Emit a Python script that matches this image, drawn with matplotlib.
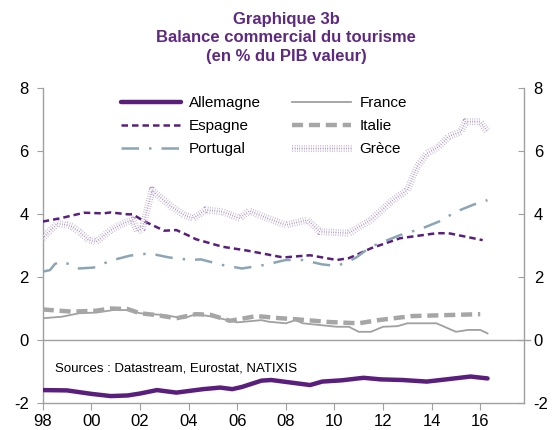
import matplotlib
matplotlib.use("Agg")
import matplotlib.pyplot as plt
import matplotlib.patheffects as pe

plt.rcParams['font.family'] = ['Liberation Sans', 'DejaVu Sans']

# ---- data ----
allemagne_x = [1998.0, 1999.0, 2000.0, 2000.8, 2001.5, 2002.0, 2002.7, 2003.5, 2004.6, 2005.3, 2005.8,
               2006.2, 2007.0, 2007.4, 2008.0, 2009.0, 2009.5, 2010.3, 2011.2, 2011.9, 2012.8, 2013.8,
               2014.6, 2015.6, 2016.3]
allemagne_y = [-1.59, -1.6, -1.71, -1.78, -1.76, -1.7, -1.59, -1.67, -1.56, -1.51, -1.56,
               -1.49, -1.29, -1.27, -1.33, -1.43, -1.32, -1.28, -1.2, -1.25, -1.27, -1.32,
               -1.25, -1.16, -1.22]

france_x = [1998.0, 1998.8, 1999.5, 2000.2, 2000.9, 2001.5, 2002.0, 2003.0, 2003.8, 2004.3, 2005.0,
            2006.0, 2007.0, 2007.3, 2008.0, 2008.4, 2008.7, 2010.1, 2010.6, 2011.0, 2011.5, 2012.0,
            2012.6, 2013.0, 2014.2, 2015.0, 2015.5, 2016.0, 2016.3]
france_y = [0.69, 0.74, 0.85, 0.87, 0.95, 0.95, 0.85, 0.79, 0.69, 0.82, 0.74,
            0.56, 0.63, 0.58, 0.53, 0.63, 0.53, 0.42, 0.42, 0.26, 0.26, 0.42,
            0.44, 0.53, 0.53, 0.26, 0.32, 0.32, 0.21]

espagne_x = [1998.0, 1998.7, 1999.7, 2000.5, 2000.8, 2001.5, 2001.7, 2002.2, 2003.0, 2003.5, 2004.1,
             2004.3, 2005.4, 2006.4, 2007.9, 2009.0, 2010.1, 2010.6, 2010.9, 2011.5, 2012.7, 2014.2,
             2014.7, 2016.1]
espagne_y = [3.76, 3.86, 4.04, 4.02, 4.05, 3.99, 3.99, 3.76, 3.47, 3.49, 3.28,
             3.2, 2.96, 2.84, 2.62, 2.69, 2.54, 2.6, 2.7, 2.91, 3.23, 3.39,
             3.39, 3.17]

italie_x = [1998.0, 1999.2, 2000.2, 2000.8, 2001.5, 2002.0, 2002.7, 2003.5, 2004.3, 2004.9, 2005.7,
            2006.8, 2007.8, 2008.4, 2009.8, 2011.0, 2011.8, 2013.2, 2014.6, 2016.0]
italie_y = [0.97, 0.9, 0.93, 1.0, 0.98, 0.85, 0.79, 0.69, 0.82, 0.8, 0.61,
            0.76, 0.69, 0.66, 0.57, 0.53, 0.63, 0.76, 0.79, 0.82]

portugal_x = [1998.0, 1998.3, 1998.5, 1998.7, 1999.1, 1999.5, 2000.1, 2000.8, 2001.6, 2002.4, 2003.2,
              2004.1, 2004.5, 2005.4, 2006.2, 2007.1, 2008.0, 2008.7, 2009.5, 2010.1, 2010.6, 2010.9,
              2011.5, 2012.7, 2013.6, 2014.3, 2015.0, 2015.7, 2016.3]
portugal_y = [2.17, 2.22, 2.41, 2.49, 2.41, 2.27, 2.3, 2.52, 2.68, 2.75, 2.62,
              2.54, 2.56, 2.38, 2.27, 2.38, 2.54, 2.54, 2.4, 2.35, 2.5, 2.62,
              2.96, 3.33, 3.54, 3.76, 4.07, 4.29, 4.44]

grece_x = [1998.0, 1998.2, 1998.6, 1999.0, 1999.2, 1999.5, 1999.9, 2000.2, 2000.8, 2001.3, 2001.7,
           2001.9, 2002.1, 2002.5, 2002.8, 2003.2, 2003.8, 2004.2, 2004.7, 2005.4, 2006.1, 2006.5,
           2007.1, 2008.0, 2008.9, 2009.4, 2010.1, 2010.6, 2010.9, 2011.5, 2012.4, 2013.0, 2013.4,
           2013.8, 2014.3, 2014.7, 2015.2, 2015.4, 2016.0, 2016.3]
grece_y = [3.23, 3.39, 3.7, 3.65, 3.6, 3.44, 3.17, 3.12, 3.49, 3.7, 3.81,
           3.44, 3.54, 4.76, 4.55, 4.29, 3.97, 3.86, 4.13, 4.07, 3.86, 4.1,
           3.91, 3.65, 3.81, 3.44, 3.41, 3.39, 3.54, 3.81, 4.44, 4.76, 5.5,
           5.92, 6.14, 6.46, 6.61, 6.93, 6.93, 6.61]

xtick_pos = [1998, 2000, 2002, 2004, 2006, 2008, 2010, 2012, 2014, 2016]
xtick_labels = ['98', '00', '02', '04', '06', '08', '10', '12', '14', '16']
ytick_pos = [-2, 0, 2, 4, 6, 8]

title_text = "Graphique 3b\nBalance commercial du tourisme\n(en % du PIB valeur)"
source_text = "Sources : Datastream, Eurostat, NATIXIS"

# ---- figure ----
W, H = 553, 430
fig = plt.figure(figsize=(W / 100, H / 100), dpi=100)
ax = fig.add_axes([42.7 / W, 1 - 403 / H, (524 - 42.7) / W, (403 - 88) / H])

purple = '#5A1F7D'
gray_axis = '#A0A0A0'

ax.axhline(0, color=gray_axis, lw=1.0, zorder=1, clip_on=False, xmax=1.012)

ax.plot(allemagne_x, allemagne_y, color=purple, lw=3.2, label='Allemagne', zorder=3,
        solid_capstyle='round')
ax.plot(espagne_x, espagne_y, color=purple, lw=1.8, ls=(0, (2.6, 1.6)), label='Espagne', zorder=3)
ax.plot(portugal_x, portugal_y, color='#8CA5B5', lw=1.8, ls=(0, (7, 4, 1, 4)), label='Portugal', zorder=3)
ax.plot(france_x, france_y, color='#A0A0A0', lw=1.3, label='France', zorder=3)
ax.plot(italie_x, italie_y, color='#A6A6A6', lw=3.2, ls=(0, (2.5, 1.3)), label='Italie', zorder=3)
ax.plot(grece_x, grece_y, color='#8A64A8', lw=0.8, ls=(0, (0.5, 1.6)), label='Grèce', zorder=4,
        path_effects=[pe.Stroke(linewidth=5.0, foreground='#A88DC2'),
                      pe.Stroke(linewidth=3.4, foreground='white'),
                      pe.Normal()])

ax.set_xlim(1998, 2017.8)
ax.set_ylim(-2, 8)
ax.set_xticks(xtick_pos)
ax.set_xticklabels(xtick_labels)
ax.set_yticks(ytick_pos)
ax.set_yticklabels([str(v) for v in ytick_pos])

for s in ['left', 'right', 'bottom']:
    ax.spines[s].set_color(gray_axis)
    ax.spines[s].set_linewidth(1.0)
ax.spines['top'].set_visible(False)

ax.tick_params(axis='x', direction='out', length=5, color=gray_axis, labelsize=12, pad=3)
ax.tick_params(axis='y', direction='out', length=4, color=gray_axis, labelsize=12, pad=6,
               left=True, right=False, labelleft=True)

ax2 = ax.twinx()
ax2.set_ylim(-2, 8)
ax2.set_yticks(ytick_pos)
ax2.set_yticklabels([str(v) for v in ytick_pos])
ax2.tick_params(axis='y', direction='in', length=4, color=gray_axis, labelsize=12, pad=7)
for s in ax2.spines.values():
    s.set_visible(False)

h, l = ax.get_legend_handles_labels()
order = ['Allemagne', 'Espagne', 'Portugal', 'France', 'Italie', 'Grèce']
hs = [h[l.index(o)] for o in order]
leg = ax.legend(hs, order, ncol=2, loc='upper left', frameon=False, fontsize=11,
                bbox_to_anchor=(121 / W, 1 - 96 / H), bbox_transform=fig.transFigure,
                borderpad=0, borderaxespad=0, handlelength=3.9, handletextpad=0.55,
                columnspacing=2.0, labelspacing=0.6)

ax.text(1998.5, -0.92, source_text, fontsize=9.5, va='center', ha='left', color='black')

fig.text(286 / W, 1 - 38 / H, title_text, ha='center', va='center', fontsize=12,
         fontweight='bold', color='#5E2A80', linespacing=1.3)

fig.savefig('out.png', dpi=100)
